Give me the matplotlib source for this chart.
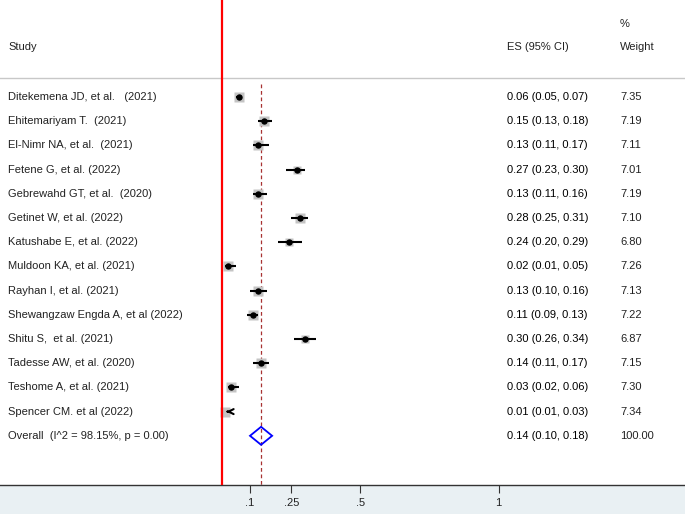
import numpy as np
import matplotlib
matplotlib.use("Agg")
import matplotlib.pyplot as plt
import matplotlib.transforms as mtransforms

plt.rcParams['font.family'] = ['Liberation Sans', 'DejaVu Sans']

# datos
studies = [
	"Ditekemena JD, et al.   (2021)",
	"Ehitemariyam T.  (2021)",
	"El-Nimr NA, et al.  (2021)",
	"Fetene G, et al. (2022)",
	"Gebrewahd GT, et al.  (2020)",
	"Getinet W, et al. (2022)",
	"Katushabe E, et al. (2022)",
	"Muldoon KA, et al. (2021)",
	"Rayhan I, et al. (2021)",
	"Shewangzaw Engda A, et al (2022)",
	"Shitu S,  et al. (2021)",
	"Tadesse AW, et al. (2020)",
	"Teshome A, et al. (2021)",
	"Spencer CM. et al (2022)",
]
es = [0.06, 0.15, 0.13, 0.27, 0.13, 0.28, 0.24, 0.02, 0.13, 0.11, 0.30, 0.14, 0.03, 0.01]
lo = [0.05, 0.13, 0.11, 0.23, 0.11, 0.25, 0.20, 0.01, 0.10, 0.09, 0.26, 0.11, 0.02, 0.01]
hi = [0.07, 0.18, 0.17, 0.30, 0.16, 0.31, 0.29, 0.05, 0.16, 0.13, 0.34, 0.17, 0.06, 0.03]
weights = [7.35, 7.19, 7.11, 7.01, 7.19, 7.10, 6.80, 7.26, 7.13, 7.22, 6.87, 7.15, 7.30, 7.34]
arrow_left = ["Spencer CM. et al (2022)"]

overall_label = "Overall  (I^2 = 98.15%, p = 0.00)"
overall_es, overall_lo, overall_hi = 0.14, 0.10, 0.18
overall_weight = "100.00"

xticks = [0.1, 0.25, 0.5, 1]
xticklabels = [".1", ".25", ".5", "1"]

W, H = 685, 514
fig = plt.figure(figsize=(W / 100, H / 100), dpi=100)
fig.patch.set_facecolor('#e9f0f3')

axis_px = 485
ax = fig.add_axes([0, (H - axis_px) / H, 1, axis_px / H])
ax.set_facecolor('white')

# escala lineal: 0 en x=222.4 px, 1 en x=498.6 px
px0, px_per = 222.4, 276.2
ax.set_xlim(-px0 / px_per, (W - px0) / px_per)
ax.set_ylim(axis_px, 0)

for s in ['top', 'left', 'right']:
	ax.spines[s].set_visible(False)
ax.spines['bottom'].set_color('#333333')
ax.spines['bottom'].set_linewidth(1.0)
ax.set_yticks([])
ax.set_xticks(xticks)
ax.set_xticklabels(xticklabels)
ax.tick_params(axis='x', direction='out', length=6, width=0.8, color='#333333',
			labelsize=8, labelcolor='#222222', pad=3)

row0, step = 97, 24.2
ys = [row0 + i * step for i in range(len(studies))]
y_over = row0 + len(studies) * step

# lineas de referencia
ax.axhline(78, color='#c8c8c8', lw=1.0)
ax.axvline(0, color='#ff0000', lw=1.6, zorder=5)
ax.plot([overall_es, overall_es], [84, axis_px], color='#a83232', lw=0.9,
		dashes=(3, 2.2), zorder=1)

# estudios
for name, e, l, h, w, y in zip(studies, es, lo, hi, weights, ys):
	ax.plot(e, y, marker='s', ms=w * 0.92, color='#c4c4c4', mec='none', zorder=2)
	if name in arrow_left:
		ax.annotate('', xy=(e - 0.006, y), xytext=(h, y),
					arrowprops=dict(arrowstyle='->', color='black', lw=1.5,
									mutation_scale=9), zorder=3)
	else:
		ax.plot([l, h], [y, y], color='black', lw=1.5, solid_capstyle='butt', zorder=3)
		ax.plot(e, y, marker='o', ms=3.6, color='black', mec='black', zorder=4)

# diamante global
dh = 9
ax.fill([overall_lo, overall_es, overall_hi, overall_es, overall_lo],
		[y_over, y_over - dh, y_over, y_over + dh, y_over],
		facecolor='none', edgecolor='#0000ff', lw=1.3, zorder=4)

# textos
tr = mtransforms.blended_transform_factory(fig.transFigure, ax.transData)
fs = 8
col_study, col_es, col_w = 8 / W, 507 / W, 620 / W
tc = '#222222'
ax.text(col_study, 47, "Study", transform=tr, fontsize=fs, va='center', color=tc)
ax.text(col_es, 47, "ES (95% CI)", transform=tr, fontsize=fs, va='center', color=tc)
ax.text(col_w, 47, "Weight", transform=tr, fontsize=fs, va='center', color=tc)
ax.text(col_w, 24, "%", transform=tr, fontsize=fs, va='center', color=tc)

for name, e, l, h, w, y in zip(studies, es, lo, hi, weights, ys):
	ax.text(col_study, y, name, transform=tr, fontsize=fs, va='center', color=tc)
	ax.text(col_es, y, f"{e:.2f} ({l:.2f}, {h:.2f})", transform=tr, fontsize=fs,
			va='center', color='#000000')
	ax.text(col_w, y, f"{w:.2f}", transform=tr, fontsize=fs, va='center', color=tc)

ax.text(col_study, y_over, overall_label, transform=tr, fontsize=fs, va='center', color=tc)
ax.text(col_es, y_over, f"{overall_es:.2f} ({overall_lo:.2f}, {overall_hi:.2f})",
		transform=tr, fontsize=fs, va='center', color='#000000')
ax.text(col_w, y_over, overall_weight, transform=tr, fontsize=fs, va='center', color=tc)

fig.savefig('out.png', dpi=100, facecolor=fig.get_facecolor())
